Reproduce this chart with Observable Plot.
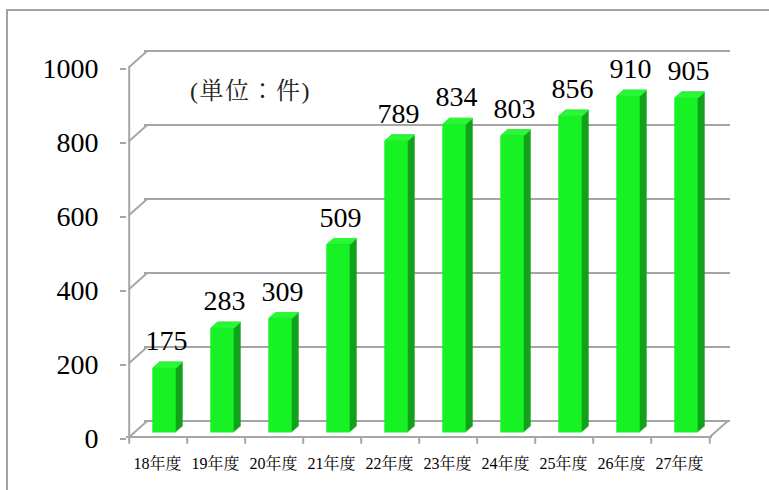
<!DOCTYPE html>
<html>
<head>
<meta charset="utf-8">
<script src="https://cdn.jsdelivr.net/npm/d3@7"></script>
<script src="https://cdn.jsdelivr.net/npm/@observablehq/plot@0.6"></script>
<style>
  html, body { margin: 0; padding: 0; background: #fff; }
  #wrap { position: relative; width: 769px; height: 490px; overflow: hidden; }
  #border { position: absolute; left: 6px; top: 9px; width: 900px; height: 700px; border: 2px solid #a3a3a3; box-sizing: border-box; }
  #chart { position: absolute; left: 0; top: 0; }
  #unit { position: absolute; left: 190px; top: 79px; font: 24px 'Liberation Serif', 'Noto Serif CJK JP', serif; letter-spacing: 1.5px; color: #222; white-space: nowrap; line-height: 1; }
</style>
</head>
<body>
<div id="wrap"><div id="border"></div><div id="chart"></div><div id="unit"></div></div>
<script>
const categories = ["18年度","19年度","20年度","21年度","22年度","23年度","24年度","25年度","26年度","27年度"];
const values = [175, 283, 309, 509, 789, 834, 803, 856, 910, 905];
const yTicks = [0, 200, 400, 600, 800, 1000];
const unitLabel = "(単位：件)";

const data = categories.map((c, i) => ({cat: c, value: values[i]}));

const W = 769, H = 490;
const mL = 126, mR = 57, mT = 66.5, mB = 53.5;
const band = (W - mL - mR) / categories.length;
const barW = 24;
const inset = (band - barW) / 2;
const bdx = 6, bdy = -4;          // bar offset (mid depth)
const depthSteps = 7;             // bar extrusion in px
const wallDx = 18, wallDy = -16;  // back wall offset
const wallAngle = Math.atan2(wallDx, -wallDy) * 180 / Math.PI;
const wallLen = Math.hypot(wallDx, wallDy);
const gray = "#a6a6a6";
const FONT = "'Liberation Serif', 'Noto Serif CJK JP', serif";
const lineShape = {draw(context, l) { context.moveTo(0, 0); context.lineTo(0, -l); }};

const marks = [];
marks.push(Plot.ruleY(yTicks, {y: d => d, dx: wallDx, dy: wallDy, stroke: gray, strokeWidth: 2}));
marks.push(Plot.vector(yTicks, {x: () => categories[0], y: d => d, dx: -band / 2, length: wallLen, rotate: wallAngle, anchor: "start", shape: lineShape, stroke: gray, strokeWidth: 2}));
marks.push(Plot.vector([0], {x: () => categories[categories.length - 1], y: d => d, dx: band / 2, length: wallLen, rotate: wallAngle, anchor: "start", shape: lineShape, stroke: gray, strokeWidth: 2}));
marks.push(Plot.ruleY([0], {stroke: gray, strokeWidth: 2}));
marks.push(Plot.ruleX([categories[0]], {y1: 0, y2: 1000, dx: -band / 2, stroke: gray, strokeWidth: 2}));
marks.push(Plot.vector(categories, {x: d => d, y: () => 0, dx: -band / 2, length: 6, rotate: 180, anchor: "start", shape: lineShape, stroke: gray, strokeWidth: 2}));
marks.push(Plot.vector([categories[categories.length - 1]], {x: d => d, y: () => 0, dx: band / 2, length: 6, rotate: 180, anchor: "start", shape: lineShape, stroke: gray, strokeWidth: 2}));

for (let k = depthSteps; k >= 1; k--) {
  marks.push(Plot.barY(data, {x: "cat", y: "value", insetLeft: inset, insetRight: inset, dx: bdx + k, dy: bdy - k * 0.86, fill: "#12a21b"}));
}
for (let k = depthSteps; k >= 1; k--) {
  marks.push(Plot.tickY(data, {x: "cat", y: "value", insetLeft: inset, insetRight: inset, dx: bdx + k, dy: bdy - k * 0.86, stroke: "#2cf838", strokeWidth: 1.4}));
}
marks.push(Plot.barY(data, {x: "cat", y: "value", insetLeft: inset, insetRight: inset, dx: bdx, dy: bdy, fill: "#17f224"}));

marks.push(Plot.text(data, {x: "cat", y: "value", text: d => String(d.value), dx: 8, dy: bdy - 18, lineAnchor: "bottom", fontSize: 28, fontFamily: FONT, fill: "#000"}));

marks.push(Plot.axisY({ticks: yTicks, tickSize: 6, tickPadding: 22, stroke: gray, strokeWidth: 2, fill: "#000", fontSize: 28, fontFamily: FONT, dy: 2, label: null, tickFormat: d => String(d)}));
marks.push(Plot.axisX({tickSize: 0, tickPadding: 21, fontSize: 16, fontFamily: FONT, fill: "#000", dx: -1, label: null}));

const chart = Plot.plot({
  width: W, height: H,
  marginLeft: mL, marginRight: mR, marginTop: mT, marginBottom: mB,
  style: {background: "transparent", fontFamily: FONT},
  x: {type: "band", domain: categories, padding: 0},
  y: {domain: [0, 1000]},
  marks
});
chart.querySelectorAll("text, tspan, g").forEach(el => {
  el.setAttribute("font-family", FONT);
  el.style.setProperty("font-family", FONT, "important");
});
document.getElementById("chart").appendChild(chart);
document.getElementById("unit").textContent = unitLabel;
</script>
</body>
</html>
